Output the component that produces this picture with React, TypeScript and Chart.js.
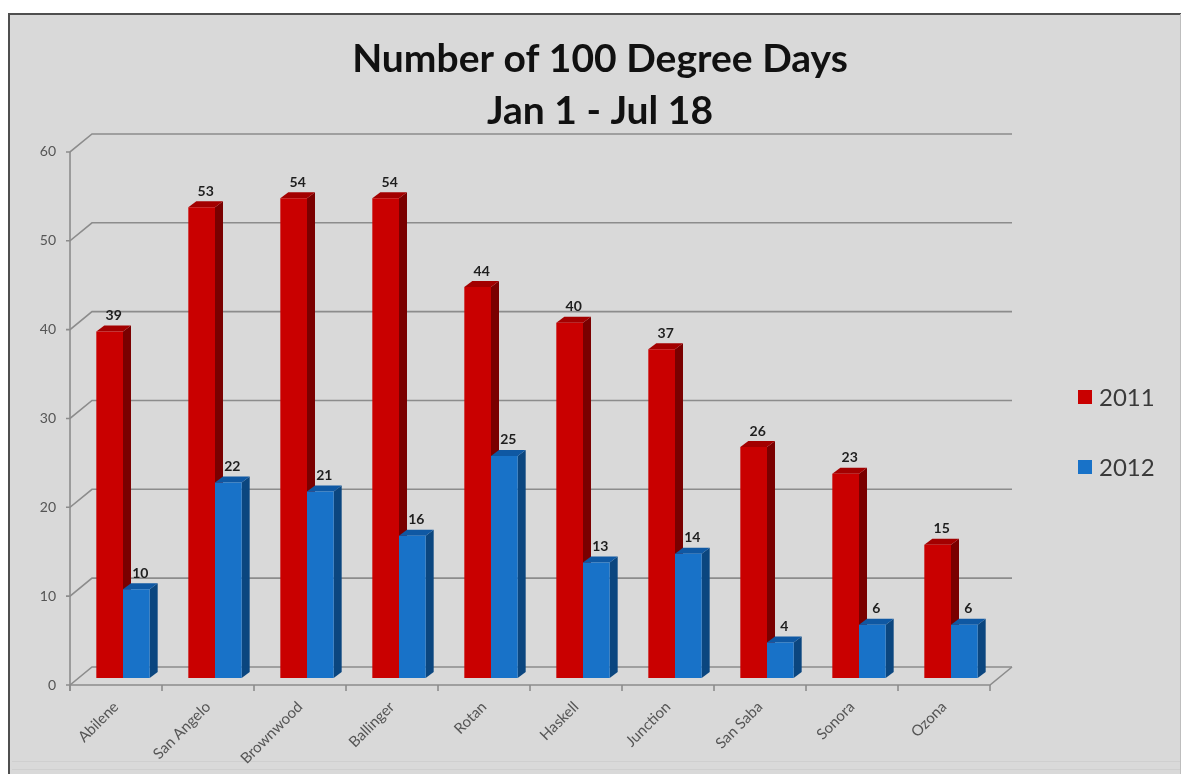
import { useEffect, useRef } from 'react';
import { Chart, registerables } from 'chart.js';

Chart.register(...registerables);

const categories = ['Abilene', 'San Angelo', 'Brownwood', 'Ballinger', 'Rotan', 'Haskell', 'Junction', 'San Saba', 'Sonora', 'Ozona'];
const series2011 = [39, 53, 54, 54, 44, 40, 37, 26, 23, 15];
const series2012 = [10, 22, 21, 16, 25, 13, 14, 4, 6, 6];
const seriesLabels = ['2011', '2012'];
const yMin = 0;
const yMax = 60;
const yStep = 10;
const titleLines = ['Number of 100 Degree Days', 'Jan 1 - Jul 18'];

const FONT = 'Lato, "Open Sans", sans-serif';
const faceColors = [
  { front: '#c90000', side: '#7a0000', top: '#a30000' },
  { front: '#1872c8', side: '#0b467f', top: '#0f58a3' },
];
const BAR_SHIFT = { x: 7, y: -7 };
const BAR_DEPTH = { x: 8, y: -6 };
const WALL = { x: 22, y: -18 };
const GRID_COLOR = '#8c8c8c';

const framePlugin = {
  id: 'frame',
  beforeDraw(chart: any) {
    const { ctx, width, height } = chart;
    ctx.save();
    ctx.fillStyle = '#ffffff';
    ctx.fillRect(0, 0, width, height);
    ctx.fillStyle = '#d9d9d9';
    ctx.fillRect(9, 14, width - 10, height - 14);
    ctx.strokeStyle = '#cfcfcf';
    ctx.lineWidth = 1;
    ctx.beginPath();
    ctx.moveTo(12, height - 12.5);
    ctx.lineTo(width - 2, height - 12.5);
    ctx.moveTo(12, height - 4.5);
    ctx.lineTo(width - 2, height - 4.5);
    ctx.stroke();
    ctx.strokeStyle = '#4f4f4f';
    ctx.lineWidth = 2;
    ctx.beginPath();
    ctx.moveTo(9, height);
    ctx.lineTo(9, 14);
    ctx.lineTo(width - 1, 14);
    ctx.stroke();
    ctx.strokeStyle = '#bdbdbd';
    ctx.lineWidth = 1;
    ctx.beginPath();
    ctx.moveTo(width - 1.5, 14);
    ctx.lineTo(width - 1.5, height);
    ctx.stroke();
    ctx.restore();
  },
};

const wallsPlugin = {
  id: 'walls3d',
  beforeDatasetsDraw(chart: any) {
    const { ctx, chartArea, scales } = chart;
    const { left, right, top, bottom } = chartArea;
    const x = scales.x;
    const y = scales.y;
    ctx.save();
    ctx.strokeStyle = GRID_COLOR;
    ctx.lineWidth = 1.6;
    ctx.lineCap = 'butt';
    for (const t of y.ticks) {
      const py = y.getPixelForValue(t.value);
      ctx.beginPath();
      ctx.moveTo(left - 4, py);
      ctx.lineTo(left, py);
      ctx.lineTo(left + WALL.x, py + WALL.y);
      ctx.lineTo(right + WALL.x, py + WALL.y);
      ctx.stroke();
    }
    ctx.beginPath();
    ctx.moveTo(left, bottom);
    ctx.lineTo(right, bottom);
    ctx.lineTo(right + WALL.x, bottom + WALL.y);
    ctx.stroke();
    ctx.beginPath();
    ctx.moveTo(left, top);
    ctx.lineTo(left, bottom + 6);
    ctx.stroke();
    for (let i = 0; i <= categories.length; i++) {
      const px = x.getPixelForValue(i - 0.5);
      ctx.beginPath();
      ctx.moveTo(px, bottom);
      ctx.lineTo(px, bottom + 6);
      ctx.stroke();
    }
    ctx.restore();

    ctx.save();
    ctx.translate(BAR_SHIFT.x, BAR_SHIFT.y);
    chart.data.datasets.forEach((_ds: any, d: number) => {
      const meta = chart.getDatasetMeta(d);
      const c = faceColors[d];
      meta.data.forEach((el: any) => {
        const { x: cx, y: ty, width: w, base } = el.getProps(['x', 'y', 'width', 'base'], true);
        const l = cx - w / 2;
        const r = cx + w / 2;
        ctx.fillStyle = c.side;
        ctx.beginPath();
        ctx.moveTo(r, ty);
        ctx.lineTo(r + BAR_DEPTH.x, ty + BAR_DEPTH.y);
        ctx.lineTo(r + BAR_DEPTH.x, base + BAR_DEPTH.y);
        ctx.lineTo(r, base);
        ctx.closePath();
        ctx.fill();
        ctx.fillStyle = c.top;
        ctx.beginPath();
        ctx.moveTo(l, ty);
        ctx.lineTo(l + BAR_DEPTH.x, ty + BAR_DEPTH.y);
        ctx.lineTo(r + BAR_DEPTH.x, ty + BAR_DEPTH.y);
        ctx.lineTo(r, ty);
        ctx.closePath();
        ctx.fill();
      });
    });
  },
  afterDatasetsDraw(chart: any) {
    const { ctx } = chart;
    ctx.fillStyle = '#1e1e1e';
    ctx.font = `bold 14px ${FONT}`;
    ctx.textAlign = 'center';
    ctx.textBaseline = 'bottom';
    chart.data.datasets.forEach((ds: any, d: number) => {
      const meta = chart.getDatasetMeta(d);
      meta.data.forEach((el: any, i: number) => {
        const { x: cx, y: ty } = el.getProps(['x', 'y'], true);
        ctx.fillText(String(ds.data[i]), cx + BAR_DEPTH.x / 2, ty + BAR_DEPTH.y - 3);
      });
    });
    ctx.restore();
  },
};

const legendPlugin = {
  id: 'sideLegend',
  afterDraw(chart: any) {
    const { ctx } = chart;
    ctx.save();
    ctx.font = `24px ${FONT}`;
    ctx.textAlign = 'left';
    ctx.textBaseline = 'middle';
    chart.data.datasets.forEach((ds: any, d: number) => {
      const cy = 397 + d * 70;
      ctx.fillStyle = faceColors[d].front;
      ctx.fillRect(1078, cy - 7, 14, 14);
      ctx.fillStyle = '#3a3a3a';
      ctx.fillText(ds.label, 1099, cy + 1);
    });
    ctx.restore();
  },
};

export default function App() {
  const ref = useRef<HTMLCanvasElement>(null);
  useEffect(() => {
    const chart = new Chart(ref.current as HTMLCanvasElement, {
      type: 'bar',
      data: {
        labels: categories,
        datasets: [
          { label: seriesLabels[0], data: series2011, backgroundColor: faceColors[0].front, categoryPercentage: 0.58, barPercentage: 1 },
          { label: seriesLabels[1], data: series2012, backgroundColor: faceColors[1].front, categoryPercentage: 0.58, barPercentage: 1 },
        ],
      },
      options: {
        responsive: false,
        animation: false,
        devicePixelRatio: 1,
        layout: { padding: { left: 18, right: 0, top: 0, bottom: 0 } },
        plugins: {
          legend: { display: false },
          tooltip: { enabled: false },
          title: {
            display: true,
            text: titleLines,
            color: '#111111',
            font: { family: FONT, size: 39, weight: 'bold', lineHeight: 1.333 },
            padding: { top: 33, bottom: 15 },
          },
        },
        scales: {
          x: {
            grid: { display: false },
            border: { display: false },
            ticks: {
              color: '#555555',
              font: { family: FONT, size: 15 },
              maxRotation: 45,
              minRotation: 45,
              padding: 5,
              autoSkip: false,
            },
            afterFit: (s: any) => { s.height = 89; },
          },
          y: {
            min: yMin,
            max: yMax,
            grid: { display: false },
            border: { display: false },
            ticks: { stepSize: yStep, color: '#555555', font: { family: FONT, size: 14 }, padding: 6 },
            afterFit: (s: any) => { s.width = 52; },
          },
          legendSpace: {
            position: 'right',
            type: 'linear',
            grid: { display: false },
            border: { display: false },
            ticks: { display: false },
            afterFit: (s: any) => { s.width = 192; },
          },
        },
      },
      plugins: [framePlugin, wallsPlugin, legendPlugin],
    } as any);
    return () => chart.destroy();
  }, []);
  return (
    <canvas
      ref={ref}
      width={1182}
      height={774}
      style={{ position: 'fixed', left: 0, top: 0, display: 'block', width: 1182, height: 774 }}
    />
  );
}
